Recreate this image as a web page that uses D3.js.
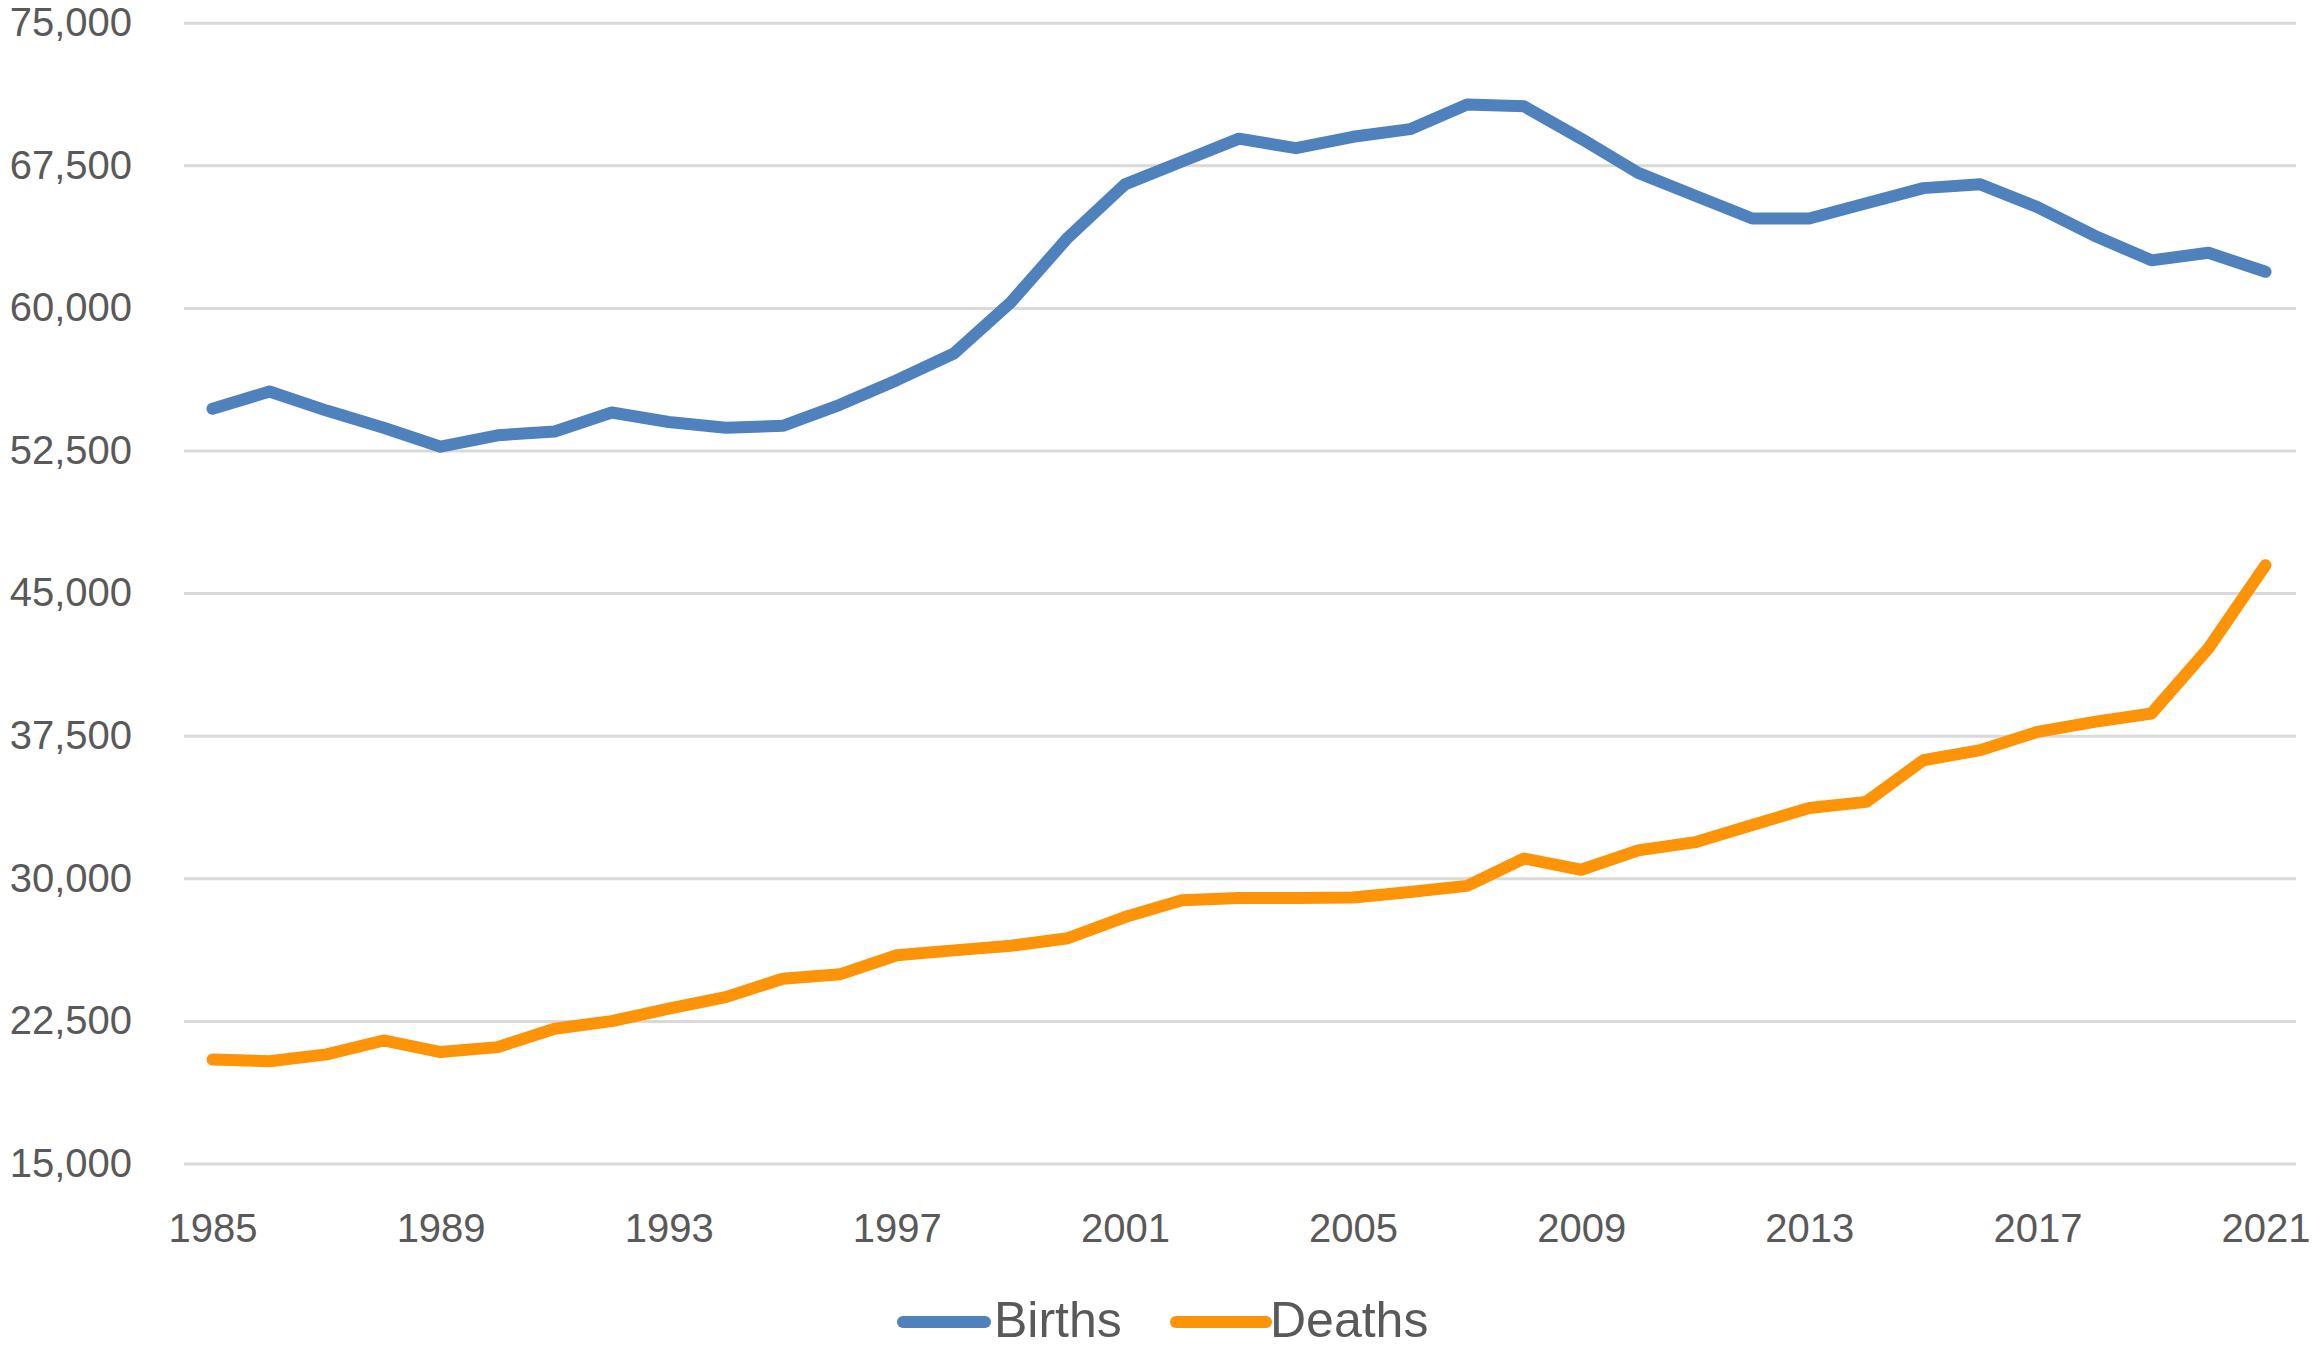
<!DOCTYPE html>
<html>
<head>
<meta charset="utf-8">
<script src="https://cdn.jsdelivr.net/npm/d3@7"></script>
<style>
  html, body { margin: 0; padding: 0; background: #fff; }
  svg { display: block; }
  text { font-family: "Liberation Sans", Arial, sans-serif; fill: #595959; }
</style>
</head>
<body>
<svg id="chart" width="2313" height="1352"></svg>
<script>
const years = d3.range(1985, 2022);
const births = [
  54700, 55600, 54600, 53700, 52700, 53300, 53500, 54500, 54000, 53700,
  53800, 54900, 56200, 57600, 60300, 63700, 66500, 67700, 68900, 68400,
  69000, 69400, 70700, 70600, 68900, 67100, 65900, 64700, 64700, 65500,
  66300, 66500, 65300, 63800, 62500, 62900, 61900
];
const deaths = [
  20470, 20380, 20740, 21470, 20860, 21120, 22090, 22490, 23140, 23750,
  24720, 24950, 25950, 26210, 26450, 26850, 27960, 28840, 28960, 28960,
  28990, 29280, 29600, 31040, 30450, 31470, 31900, 32800, 33700, 34020,
  36210, 36740, 37700, 38230, 38670, 42100, 46470
];
const yTicks = [15000, 22500, 30000, 37500, 45000, 52500, 60000, 67500, 75000];
const xTickYears = [1985, 1989, 1993, 1997, 2001, 2005, 2009, 2013, 2017, 2021];
const seriesNames = ["Births", "Deaths"];
const seriesColors = ["#4f81bd", "#fd9306"];

const svg = d3.select("#chart");
const plotLeft = 184, plotRight = 2296;

const x = d3.scalePoint().domain(years).range([212.5, 2265.5]);
const y = d3.scaleLinear().domain([15000, 75000]).range([1163.5, 22.7]);

// gridlines + y labels
const yAxis = d3.axisLeft(y)
  .tickValues(yTicks)
  .tickSize(-(plotRight - plotLeft))
  .tickPadding(52)
  .tickFormat(d3.format(","));
const gy = svg.append("g")
  .attr("transform", `translate(${plotLeft},0)`)
  .call(yAxis);
gy.select(".domain").remove();
gy.selectAll(".tick line").attr("stroke", "#d9d9d9").attr("stroke-width", 3);
gy.selectAll(".tick text")
  .style("font-size", "40px")
  .attr("fill", "#595959")
  .attr("font-family", "'Liberation Sans', Arial, sans-serif");

// x labels
const xAxis = d3.axisBottom(x)
  .tickValues(xTickYears)
  .tickSize(0)
  .tickPadding(0);
const gx = svg.append("g")
  .attr("transform", `translate(0,1163.5)`)
  .call(xAxis);
gx.select(".domain").remove();
gx.selectAll(".tick text")
  .attr("dy", null)
  .attr("y", 78)
  .style("font-size", "40px")
  .attr("fill", "#595959")
  .attr("font-family", "'Liberation Sans', Arial, sans-serif");

// lines
const line = d3.line()
  .x((d, i) => x(years[i]))
  .y(d => y(d));
[births, deaths].forEach((data, k) => {
  svg.append("path")
    .datum(data)
    .attr("d", line)
    .attr("fill", "none")
    .attr("stroke", seriesColors[k])
    .attr("stroke-width", 12)
    .attr("stroke-linejoin", "round")
    .attr("stroke-linecap", "round");
});

// legend
const legendItems = [
  { name: seriesNames[0], color: seriesColors[0], x0: 903, x1: 985, tx: 994 },
  { name: seriesNames[1], color: seriesColors[1], x0: 1176, x1: 1266, tx: 1270 }
];
const lg = svg.append("g");
legendItems.forEach(it => {
  lg.append("line")
    .attr("x1", it.x0).attr("x2", it.x1)
    .attr("y1", 1322).attr("y2", 1322)
    .attr("stroke", it.color)
    .attr("stroke-width", 12)
    .attr("stroke-linecap", "round");
  lg.append("text")
    .attr("x", it.tx)
    .attr("y", 1337)
    .style("font-size", "50px")
    .text(it.name);
});
</script>
</body>
</html>
